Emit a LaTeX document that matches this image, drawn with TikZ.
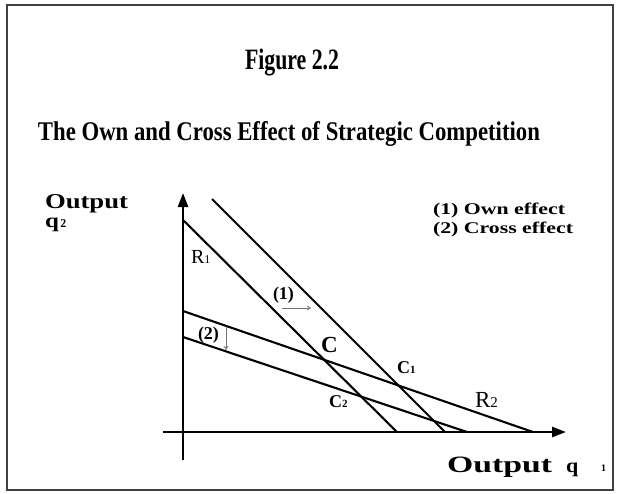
\documentclass[tikz,border=0pt]{standalone}
\usepackage{fontspec}
\setmainfont{Liberation Serif}
\usetikzlibrary{arrows.meta}
\tikzset{
  frameline/.style={draw=black!75, line width=1.5pt},
  fnline/.style={line width=2.1pt, black},
  axisline/.style={line width=2.5pt, black, -{Triangle[length=14pt,width=10pt]}},
  effarrow/.style={draw=black!55, line width=0.8pt, -{To[length=4pt,width=5pt]}},
  lbl/.style={inner sep=0pt, outer sep=0pt, anchor=base west},
}
\begin{document}
\begin{tikzpicture}[x=1pt,y=-1pt]
\useasboundingbox (0,0) rectangle (623,493);
\fill[white] (0,0) rectangle (623,493);
\draw[frameline] (7,5) rectangle (613,490);

% titles
\node[inner sep=0pt, anchor=base] (fig) at (292,69) {\resizebox{94pt}{20.5pt}{\bfseries Figure 2.2}};
\node[inner sep=0pt, anchor=base] (title) at (289,140) {\resizebox{502pt}{19pt}{\bfseries The Own and Cross Effect of Strategic Competition}};

% axis labels
\node[lbl] (outy) at (45,208) {\resizebox{83pt}{14pt}{\bfseries Output}};
\node[lbl] (q2) at (45,227) {\bfseries\fontsize{20}{20}\selectfont \scalebox{1.25}[1]{q}\hspace{1.5pt}{\fontsize{12}{12}\selectfont 2}};
\node[lbl] (outx) at (447,472) {\resizebox{105pt}{15.5pt}{\bfseries Output}};
\node[lbl] (q1) at (566,472) {\bfseries\fontsize{20}{20}\selectfont \scalebox{1.1}[1]{q}};
\node[lbl] (one) at (601,471) {\bfseries\fontsize{10}{10}\selectfont 1};

% legend
\node[lbl] (leg1) at (433,214) {\resizebox{132pt}{11.5pt}{\bfseries (1) Own effect}};
\node[lbl] (leg2) at (433,233) {\resizebox{140pt}{11.5pt}{\bfseries (2) Cross effect}};

% coordinates of the line ends
\coordinate (ybot) at (183,460);
\coordinate (ytop) at (183,193);
\coordinate (xleft) at (163,432);
\coordinate (xright) at (566,432);
\coordinate (r1a) at (183,220);
\coordinate (r1b) at (397,432);
\coordinate (r1sa) at (212,199);
\coordinate (r1sb) at (445,432);
\coordinate (r2a) at (183,311);
\coordinate (r2b) at (533,432);
\coordinate (r2sa) at (183,337);
\coordinate (r2sb) at (467,432);
\coordinate (e1a) at (282,308);
\coordinate (e1b) at (311,308);
\coordinate (e2a) at (226,327);
\coordinate (e2b) at (226,350);

% reaction lines
\draw[fnline] (r1a) -- (r1b);
\draw[fnline] (r1sa) -- (r1sb);
\draw[fnline] (r2a) -- (r2b);
\draw[fnline] (r2sa) -- (r2sb);

% axes
\draw[axisline] (ybot) -- (ytop);
\draw[axisline] (xleft) -- (xright);

% effect arrows
\draw[effarrow] (e1a) -- (e1b);
\draw[effarrow] (e2a) -- (e2b);

% labels
\node[lbl] (R1) at (191,263) {\fontsize{20}{20}\selectfont R{\fontsize{12}{12}\selectfont 1}};
\node[lbl] (eff1) at (273,299) {\bfseries\fontsize{18}{18}\selectfont (1)};
\node[lbl] (eff2) at (198,339) {\bfseries\fontsize{18}{18}\selectfont (2)};
\node[lbl] (C) at (321,352) {\bfseries\fontsize{23}{23}\selectfont C};
\node[lbl] (C1) at (397,373) {\bfseries\fontsize{18}{18}\selectfont C{\fontsize{11}{11}\selectfont 1}};
\node[lbl] (C2) at (329,407) {\bfseries\fontsize{18}{18}\selectfont C{\fontsize{11}{11}\selectfont 2}};
\node[lbl] (R2) at (475,407) {\fontsize{23}{23}\selectfont R{\fontsize{15}{15}\selectfont 2}};
\end{tikzpicture}
\end{document}
